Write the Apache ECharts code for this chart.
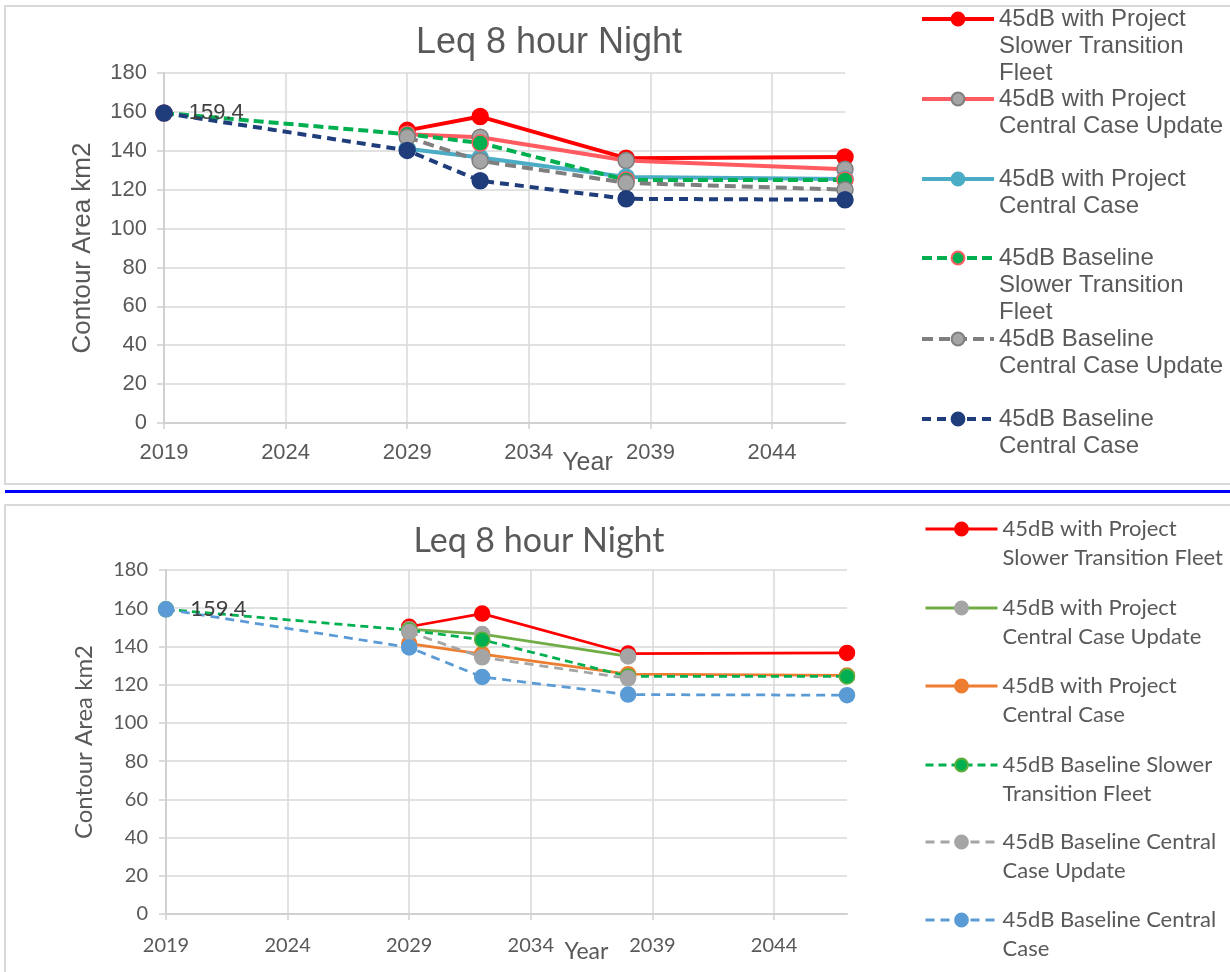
<!DOCTYPE html>
<html>
<head>
<meta charset="utf-8">
<script src="https://cdn.jsdelivr.net/npm/echarts@6/dist/echarts.min.js"></script>
<style>
  html, body { margin: 0; padding: 0; background: #ffffff; }
  #chart { width: 1230px; height: 972px; }
</style>
</head>
<body>
<div id="chart"></div>
<script>
// ---------- data ----------
const years = [2019, 2029, 2032, 2038, 2047];
const xTickValues = [2019, 2024, 2029, 2034, 2039, 2044];

const seriesNames = [
  '45dB with Project Slower Transition Fleet',
  '45dB with Project Central Case Update',
  '45dB with Project Central Case',
  '45dB Baseline Slower Transition Fleet',
  '45dB Baseline Central Case Update',
  '45dB Baseline Central Case'
];
const topLegendLabels = [
  '45dB with Project\nSlower Transition\nFleet',
  '45dB with Project\nCentral Case Update',
  '45dB with Project\nCentral Case',
  '45dB Baseline\nSlower Transition\nFleet',
  '45dB Baseline\nCentral Case Update',
  '45dB Baseline\nCentral Case'
];
const bottomLegendLabels = [
  '45dB with Project\nSlower Transition Fleet',
  '45dB with Project\nCentral Case Update',
  '45dB with Project\nCentral Case',
  '45dB Baseline Slower\nTransition Fleet',
  '45dB Baseline Central\nCase Update',
  '45dB Baseline Central\nCase'
];

// top chart values (by year)
const topWithProjectSTF = [null, 150.5, 157.6, 136.2, 136.8];
const topWithProjectCCU = [null, 148.5, 147.0, 135.0, 130.5];
const topWithProjectCC  = [null, 141.0, 136.5, 126.5, 125.5];
const topBaselineSTF    = [159.4, 148.5, 144.0, 125.0, 125.0];
const topBaselineCCU    = [null, 147.0, 134.8, 123.5, 120.0];
const topBaselineCC     = [159.4, 140.2, 124.6, 115.3, 114.8];

// bottom chart values (by year)
const botWithProjectSTF = [null, 150.3, 157.2, 136.3, 136.6];
const botWithProjectCCU = [null, 149.0, 146.5, 134.8, null];
const botWithProjectCC  = [null, 141.5, 136.0, 125.5, 124.8];
const botBaselineSTF    = [159.4, 148.5, 143.5, 124.3, 124.3];
const botBaselineCCU    = [null, 147.5, 134.3, 123.3, null];
const botBaselineCC     = [159.4, 139.5, 124.0, 114.8, 114.5];

const yTitle = 'Contour Area km2';
const xTitle = 'Year';
const chartTitle = 'Leq 8 hour Night';

// ---------- styles ----------
const ARIAL = '"Liberation Sans", Arial, sans-serif';
const CALIB = 'Lato, "Open Sans", sans-serif';

const topStyles = [
  { line: '#ff0000', dash: 'solid', fill: '#ff0000', border: '#ff0000' },
  { line: '#ff5b61', dash: 'solid', fill: '#a5a5a5', border: '#7f7f7f' },
  { line: '#4bacc6', dash: 'solid', fill: '#4bacc6', border: '#4bacc6' },
  { line: '#00b050', dash: [10, 5], fill: '#00b050', border: '#ff5b61' },
  { line: '#7f7f7f', dash: [11, 6], fill: '#a5a5a5', border: '#7f7f7f' },
  { line: '#1f3d7a', dash: [9, 6], fill: '#1f3d7a', border: '#1f3d7a' }
];
const botStyles = [
  { line: '#ff0000', dash: 'solid', fill: '#ff0000', border: '#ff0000' },
  { line: '#70ad47', dash: 'solid', fill: '#a5a5a5', border: '#a5a5a5' },
  { line: '#ed7d31', dash: 'solid', fill: '#ed7d31', border: '#ed7d31' },
  { line: '#00b050', dash: [8, 5], fill: '#00b050', border: '#5fae3d' },
  { line: '#a5a5a5', dash: [9, 6], fill: '#a5a5a5', border: '#a5a5a5' },
  { line: '#5b9bd5', dash: [9, 6], fill: '#5b9bd5', border: '#5b9bd5' }
];

const topValues = [topWithProjectSTF, topWithProjectCCU, topWithProjectCC, topBaselineSTF, topBaselineCCU, topBaselineCC];
const botValues = [botWithProjectSTF, botWithProjectCCU, botWithProjectCC, botBaselineSTF, botBaselineCCU, botBaselineCC];

function makeData(vals, labelFirst, labelCfg) {
  const out = [];
  years.forEach(function (y, i) {
    if (vals[i] == null) return;
    const item = { value: [y, vals[i]] };
    if (labelFirst && i === 0) item.label = labelCfg;
    out.push(item);
  });
  return out;
}

function buildSeries(values, styles, idx, suffix, lineW, symSize, labelCfg) {
  return values.map(function (vals, i) {
    const st = styles[i];
    return {
      name: seriesNames[i] + suffix,
      type: 'line',
      xAxisIndex: idx, yAxisIndex: idx,
      data: makeData(vals, i === 5, labelCfg),
      symbol: 'circle',
      symbolSize: symSize,
      lineStyle: { color: st.line, width: lineW, type: st.dash },
      itemStyle: { color: st.fill, borderColor: st.border, borderWidth: 1.5 },
      label: { show: false },
      emphasis: { disabled: true },
      z: 2 + i
    };
  });
}

const topLabel = { show: true, position: 'right', distance: 16, formatter: '{@[1]}', fontSize: 22, color: '#404040', fontFamily: ARIAL };
const botLabel = { show: true, position: 'right', distance: 16, formatter: '{@[1]}', fontSize: 22, color: '#404040', fontFamily: CALIB };

const series = []
  .concat(buildSeries(topValues, topStyles, 0, '', 4, 16, topLabel))
  .concat(buildSeries(botValues, botStyles, 1, ' ', 2.75, 15, botLabel));

function buildLegends(labels, suffix, left, firstYs, fontSize, lineH, fontFamily, lineW) {
  return labels.map(function (lab, i) {
    const n = lab.split('\n').length;
    const itemH = 16;
    const boxH = (2 * n - 1) * lineH;
    // leading blank lines so the first text line sits beside the icon
    const shown = '\n'.repeat(n - 1) + lab;
    return {
      left: left,
      top: firstYs[i] - boxH / 2,
      padding: 0,
      orient: 'vertical',
      itemWidth: 72,
      itemHeight: itemH,
      selectedMode: false,
      data: [seriesNames[i] + suffix],
      formatter: function () { return shown; },
      lineStyle: { width: lineW },
      textStyle: { fontSize: fontSize, lineHeight: lineH, color: '#595959', fontFamily: fontFamily }
    };
  });
}

const legends = []
  .concat(buildLegends(topLegendLabels, '', 920, [19, 99, 179, 258, 339, 419], 24, 27, ARIAL, 4))
  .concat(buildLegends(bottomLegendLabels, ' ', 924, [529, 608, 686, 765, 842, 920], 22, 29, CALIB, 3));

function xAxisCfg(idx, fontFamily, fontSize, nameSize, margin, padLeft, gap) {
  return {
    gridIndex: idx, type: 'value', min: 2019, max: 2047,
    axisLine: { show: true, onZero: false, lineStyle: { color: '#d0d0d0', width: 2 } },
    axisTick: { show: true, inside: false, length: 6, customValues: xTickValues, lineStyle: { color: '#d0d0d0', width: 1.5 } },
    axisLabel: { customValues: xTickValues, margin: margin, fontSize: fontSize, color: '#595959', fontFamily: fontFamily,
      formatter: function (v) { return String(v); } },
    splitLine: { show: true, lineStyle: { color: '#d9d9d9', width: 1.5 } },
    name: xTitle, nameLocation: 'middle', nameGap: gap, nameMoveOverlap: false,
    nameTextStyle: { fontSize: nameSize, color: '#595959', fontFamily: fontFamily, padding: [0, 0, 0, padLeft] }
  };
}
function yAxisCfg(idx, fontFamily, fontSize, nameSize, margin, gap) {
  return {
    gridIndex: idx, type: 'value', min: 0, max: 180, interval: 20,
    axisLine: { show: true, lineStyle: { color: '#d0d0d0', width: 2 } },
    axisTick: { show: true, inside: false, length: 7, lineStyle: { color: '#d0d0d0', width: 1.5 } },
    axisLabel: { margin: margin, fontSize: fontSize, color: '#595959', fontFamily: fontFamily },
    splitLine: { show: true, lineStyle: { color: '#d9d9d9', width: 1.5 } },
    name: yTitle, nameLocation: 'middle', nameGap: gap, nameMoveOverlap: false,
    nameTextStyle: { fontSize: nameSize, color: '#595959', fontFamily: fontFamily }
  };
}

const option = {
  animation: false,
  backgroundColor: '#ffffff',
  title: [
    { text: chartTitle, left: 549, top: 25, padding: 0, textAlign: 'center',
      textStyle: { fontSize: 36, fontWeight: 'normal', color: '#595959', fontFamily: ARIAL } },
    { text: chartTitle, left: 539, top: 524, padding: 0, textAlign: 'center',
      textStyle: { fontSize: 34, fontWeight: 'normal', color: '#595959', fontFamily: CALIB } }
  ],
  grid: [
    { left: 164, top: 73, width: 681, height: 350 },
    { left: 166, top: 570, width: 681, height: 344 }
  ],
  xAxis: [
    xAxisCfg(0, ARIAL, 22, 25, 19, 166, 28),
    xAxisCfg(1, CALIB, 20, 23, 22, 160, 26)
  ],
  yAxis: [
    yAxisCfg(0, ARIAL, 22, 26, 17, 68),
    yAxisCfg(1, CALIB, 20, 24, 18, 70)
  ],
  legend: legends,
  series: series,
  graphic: [
    { type: 'rect', z: -10, silent: true, shape: { x: 5, y: 6, width: 1240, height: 478 },
      style: { fill: 'none', stroke: '#d9d9d9', lineWidth: 2 } },
    { type: 'rect', z: -10, silent: true, shape: { x: 5, y: 505, width: 1240, height: 480 },
      style: { fill: 'none', stroke: '#d9d9d9', lineWidth: 2 } },
    { type: 'line', z: -10, silent: true, shape: { x1: 5, y1: 491.5, x2: 1230, y2: 491.5 },
      style: { stroke: '#0000ff', lineWidth: 3 } }
  ]
};

const chart = echarts.init(document.getElementById('chart'), null, { renderer: 'canvas' });
chart.setOption(option);
</script>
</body>
</html>
